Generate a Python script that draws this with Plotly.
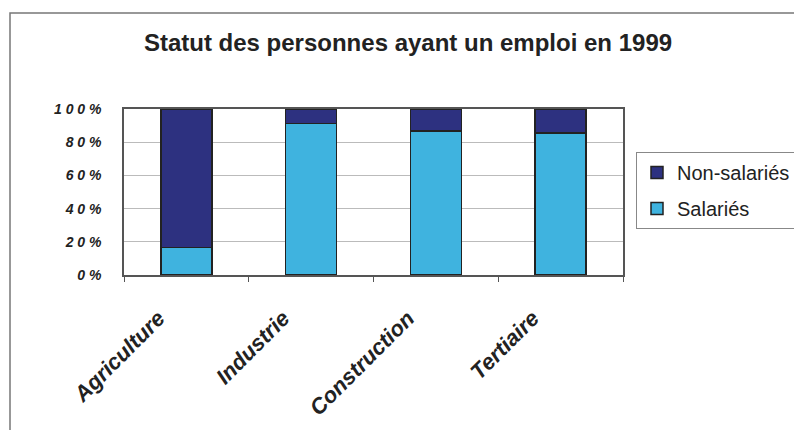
import plotly.graph_objects as go

categories = ["Agriculture", "Industrie", "Construction", "Tertiaire"]
salaries = [16.5, 91.4, 86.7, 85.4]
non_salaries = [100 - v for v in salaries]
y_ticks = [0, 20, 40, 60, 80, 100]
y_tick_labels = ["0 %", "2 0 %", "4 0 %", "6 0 %", "8 0 %", "1 0 0 %"]

W, H = 794, 430
L, R, T, B = 124, 623, 109, 275

def px(x):
    return (x - L) / (R - L)

def py(y):
    return (B - y) / (B - T)

fig = go.Figure()
fig.add_trace(go.Bar(x=categories, y=salaries, name="Salariés", legendrank=2, legendgroup="s",
                     marker=dict(color="#3FB3DF", line=dict(color="#222222", width=1.5))))
fig.add_trace(go.Bar(x=categories, y=non_salaries, name="Non-salariés", legendrank=1, legendgroup="n",
                     marker=dict(color="#2D3180", line=dict(color="#222222", width=1.5))))

FONT = "Liberation Sans, Arial, sans-serif"
fig.update_layout(
    width=W, height=H,
    barmode="stack", bargap=0.59,
    margin=dict(l=L, r=W - R, t=T, b=H - B, autoexpand=False),
    paper_bgcolor="white", plot_bgcolor="white",
    font=dict(family=FONT, color="#222222"),
    title=dict(text="<b>Statut des personnes ayant un emploi en 1999</b>",
               x=408 / W, xanchor="center", y=1 - 43 / H, yanchor="middle",
               font=dict(size=24, color="#222222")),
    showlegend=True,
    legend=dict(x=px(636), y=py(152), xanchor="left", yanchor="top",
                bgcolor="white", bordercolor="#888888", borderwidth=1,
                traceorder="grouped", tracegroupgap=7,
                font=dict(size=20, color="#222222"), itemwidth=30),
    xaxis=dict(showline=True, linecolor="#555555", linewidth=1.5, mirror=True,
               ticks="outside", ticklen=5, tickcolor="#555555",
               tickson="boundaries", tickangle=-45,
               ticklabelstandoff=20, ticklabelshift=-28,
               tickfont=dict(size=22, family=FONT)),
    yaxis=dict(range=[0, 100], tickvals=y_ticks, ticktext=y_tick_labels,
               showline=True, linecolor="#555555", linewidth=1.5, mirror=True,
               showgrid=True, gridcolor="#BBBBBB", gridwidth=1,
               tickfont=dict(size=14), ticks="", ticklabelstandoff=18),
    shapes=[dict(type="rect", xref="paper", yref="paper",
                 x0=px(10), x1=px(W + 10), y0=py(H + 10), y1=py(13),
                 line=dict(color="#777777", width=1.5), layer="below")],
)

fig.update_xaxes(tickprefix="<b><i>", ticksuffix="</i></b>")
fig.update_yaxes(ticktext=["<b><i>" + t + "</i></b>" for t in y_tick_labels])

fig.write_html("out.html", config={"displayModeBar": False},
               post_script="document.body.style.margin='0';document.body.style.overflow='hidden';")
